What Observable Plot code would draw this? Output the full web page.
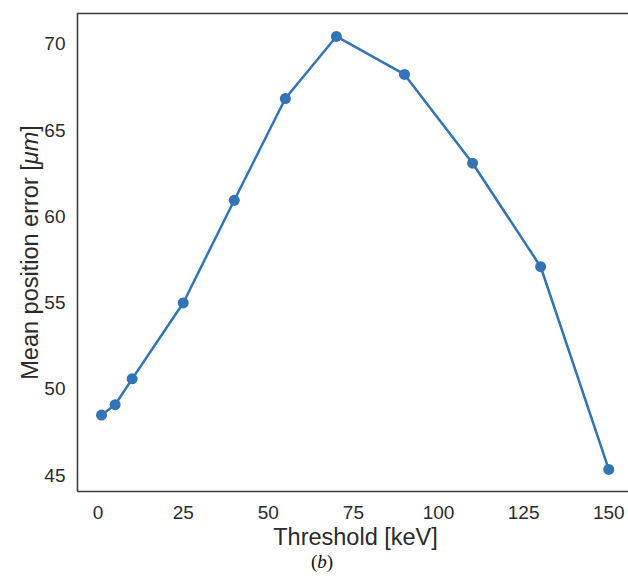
<!DOCTYPE html>
<html>
<head>
<meta charset="utf-8">
<script src="https://cdn.jsdelivr.net/npm/d3@7"></script>
<script src="https://cdn.jsdelivr.net/npm/@observablehq/plot@0.6"></script>
<style>
  html, body { margin: 0; padding: 0; background: #fff; }
  #wrap { position: relative; width: 628px; height: 579px; }
  #caption { position: absolute; left: 0; width: 644px; top: 551px; text-align: center;
    font-family: "Liberation Serif", "DejaVu Serif", serif; font-size: 19px; color: #111; }
</style>
</head>
<body>
<div id="wrap">
  <div id="chart"></div>
  <div id="caption">(<i>b</i>)</div>
</div>
<script>
const thresholds = [1, 5, 10, 25, 40, 55, 70, 90, 110, 130, 150];
const meanError = [48.5, 49.1, 50.6, 55.0, 60.95, 66.85, 70.45, 68.25, 63.1, 57.1, 45.35];
const xTicks = [0, 25, 50, 75, 100, 125, 150];
const yTicks = [45, 50, 55, 60, 65, 70];
const xLabel = "Threshold [keV]";
const yLabel = "Mean position error [μm]";

const xDomain = [-6.05, 155.8];
const yDomain = [44.07, 71.78];

const data = thresholds.map((t, i) => ({t, e: meanError[i]}));
const blue = "#3274b6";
const spine = "#3d3d3d";
const textColor = "#2b2b2b";

const chart = Plot.plot({
  width: 628,
  height: 579,
  marginLeft: 77,
  marginRight: 0,
  marginTop: 13,
  marginBottom: 88,
  style: {fontFamily: "'Liberation Sans', Arial, sans-serif", fontSize: "19px", color: textColor, background: "#fff"},
  x: {domain: xDomain},
  y: {domain: yDomain},
  marks: [
    Plot.axisX({ticks: xTicks, tickSize: 0, tickPadding: 13.5, label: null, fontSize: 19}),
    Plot.axisY({ticks: yTicks, tickSize: 0, tickPadding: 12, label: null, fontSize: 19}),
    Plot.ruleX([xDomain[0]], {stroke: spine, strokeWidth: 1.6}),
    Plot.ruleY([yDomain[0]], {stroke: spine, strokeWidth: 1.6}),
    Plot.ruleY([yDomain[1]], {stroke: spine, strokeWidth: 1.6}),
    Plot.line(data, {x: "t", y: "e", stroke: blue, strokeWidth: 2.5}),
    Plot.dot(data, {x: "t", y: "e", r: 5.5, fill: blue, stroke: "none"}),
    Plot.text([xLabel], {frameAnchor: "bottom", text: d => d, textAnchor: "middle", lineAnchor: "middle", dy: 46, dx: 2.5, fontSize: 23.5, fill: textColor}),
    Plot.text([yLabel], {frameAnchor: "left", text: d => d, textAnchor: "middle", lineAnchor: "middle", dx: -47, rotate: -90, fontSize: 23.5, fill: textColor})
  ]
});
document.getElementById("chart").appendChild(chart);

// italicize the μm unit in the y label
d3.select(chart).selectAll("text").each(function() {
  if (this.textContent === yLabel) {
    const el = d3.select(this);
    el.text(null);
    el.append("tspan").text("Mean position error [");
    el.append("tspan").attr("font-style", "italic").text("μm");
    el.append("tspan").text("]");
  }
});
</script>
</body>
</html>
